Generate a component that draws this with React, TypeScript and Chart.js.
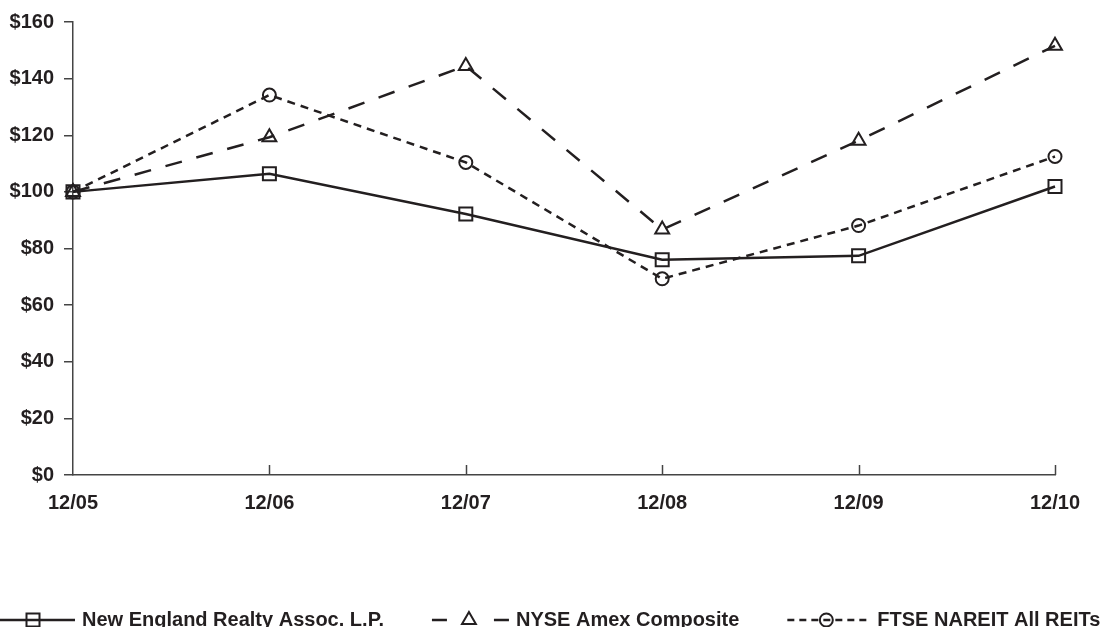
import React, { useEffect, useRef } from "react";
import { Chart, registerables } from "chart.js";

Chart.register(...registerables);

const categories = ["12/05", "12/06", "12/07", "12/08", "12/09", "12/10"];
const newEngland = [100, 106.4, 92.2, 76.0, 77.4, 101.9];
const nyseAmex = [100, 119.3, 144.5, 86.7, 118.1, 151.6];
const ftseNareit = [100, 134.2, 110.4, 69.3, 88.1, 112.5];
const seriesNames = [
  "New England Realty Assoc. L.P.",
  "NYSE Amex Composite",
  "FTSE NAREIT All REITs",
];
const yMin = 0;
const yMax = 160;
const yStep = 20;

const INK = "#231f20";
const AXIS = "#444444";
const FONT = '"Liberation Sans", Arial, Helvetica, sans-serif';

function drawMarker(ctx: CanvasRenderingContext2D, style: string, x: number, y: number) {
  ctx.save();
  ctx.setLineDash([]);
  ctx.lineWidth = 2;
  ctx.strokeStyle = INK;
  ctx.beginPath();
  if (style === "rect") {
    ctx.rect(x - 6.5, y - 6.5, 13, 13);
  } else if (style === "triangle") {
    const r = 8;
    ctx.moveTo(x, y - r);
    ctx.lineTo(x + r * Math.cos(Math.PI / 6), y + r / 2);
    ctx.lineTo(x - r * Math.cos(Math.PI / 6), y + r / 2);
    ctx.closePath();
  } else {
    ctx.arc(x, y, 6.5, 0, Math.PI * 2);
  }
  ctx.stroke();
  ctx.restore();
}

const innerTicksPlugin = {
  id: "innerTicks",
  afterDraw(chart: any) {
    const xs = chart.scales.x;
    const ctx = chart.ctx;
    const bottom = chart.chartArea.bottom;
    ctx.save();
    ctx.strokeStyle = AXIS;
    ctx.lineWidth = 1.5;
    for (let i = 1; i < categories.length; i++) {
      const px = Math.round(xs.getPixelForTick(i)) + 0.5;
      ctx.beginPath();
      ctx.moveTo(px, bottom);
      ctx.lineTo(px, bottom - 10);
      ctx.stroke();
    }
    ctx.restore();
  },
};

const legendPlugin = {
  id: "customLegend",
  afterDraw(chart: any) {
    const ctx = chart.ctx;
    const y = 620;
    let x = 0;
    ctx.save();
    ctx.font = `bold 20px ${FONT}`;
    ctx.textBaseline = "middle";
    ctx.fillStyle = INK;
    chart.data.datasets.forEach((ds: any) => {
      const sampleW = ds.legendSampleW;
      ctx.save();
      ctx.strokeStyle = INK;
      ctx.lineWidth = ds.borderWidth;
      ctx.setLineDash(ds.legendDash || []);
      ctx.beginPath();
      ctx.moveTo(x, y);
      ctx.lineTo(x + sampleW, y);
      ctx.stroke();
      ctx.restore();
      drawMarker(ctx, ds.pointStyle, x + ds.legendMarkerX, y);
      const tx = x + sampleW + 7;
      ctx.fillText(ds.label, tx, y);
      const w = ctx.measureText(ds.label).width;
      x = tx + w + 48;
    });
    ctx.restore();
  },
};

export default function App() {
  const canvasRef = useRef<HTMLCanvasElement | null>(null);

  useEffect(() => {
    if (!canvasRef.current) return;
    const common = {
      borderColor: INK,
      pointBorderColor: INK,
      pointBackgroundColor: "rgba(0,0,0,0)",
      pointBorderWidth: 2,
      tension: 0,
      fill: false,
    };
    const chart = new Chart(canvasRef.current, {
      type: "line",
      data: {
        labels: categories,
        datasets: [
          {
            ...common,
            label: seriesNames[0],
            data: newEngland,
            borderWidth: 2.5,
            pointStyle: "rect",
            pointRadius: 9.2,
            legendSampleW: 75,
            legendMarkerX: 33,
          } as any,
          {
            ...common,
            label: seriesNames[1],
            data: nyseAmex,
            borderWidth: 2.5,
            borderDash: [17, 15],
            pointStyle: "triangle",
            pointRadius: 8,
            legendSampleW: 77,
            legendDash: [15, 47],
            legendMarkerX: 37,
          } as any,
          {
            ...common,
            label: seriesNames[2],
            data: ftseNareit,
            borderWidth: 2.5,
            borderDash: [8, 6],
            pointStyle: "circle",
            pointRadius: 6.5,
            legendSampleW: 83,
            legendDash: [7, 5],
            legendMarkerX: 39,
          } as any,
        ],
      },
      options: {
        animation: false,
        responsive: true,
        maintainAspectRatio: false,
        layout: { padding: { top: 21, right: 46, left: 0, bottom: 0 } },
        plugins: {
          legend: { display: false },
          tooltip: { enabled: false },
        },
        scales: {
          x: {
            type: "category",
            offset: false,
            grid: { display: true, drawOnChartArea: false, drawTicks: false },
            border: { display: true, color: AXIS, width: 1.5 },
            ticks: {
              color: INK,
              font: { family: FONT, size: 20, weight: "bold" },
              padding: 16,
              maxRotation: 0,
              autoSkip: false,
            },
            afterFit: (scale: any) => {
              scale.height = 152;
            },
          },
          y: {
            min: yMin,
            max: yMax,
            grid: {
              display: true,
              drawOnChartArea: false,
              drawTicks: true,
              tickLength: 9,
              color: AXIS,
              lineWidth: 1.5,
            },
            border: { display: true, color: AXIS, width: 1.5 },
            ticks: {
              stepSize: yStep,
              color: INK,
              padding: 10,
              font: { family: FONT, size: 20, weight: "bold" },
              callback: (v: any) => "$" + v,
            },
            afterFit: (scale: any) => {
              scale.width = 73;
            },
          },
        },
      } as any,
      plugins: [innerTicksPlugin, legendPlugin],
    });
    return () => chart.destroy();
  }, []);

  return (
    <div
      style={{
        position: "absolute",
        left: 0,
        top: 0,
        width: "1101px",
        height: "627px",
        background: "#ffffff",
      }}
    >
      <canvas ref={canvasRef} />
    </div>
  );
}
